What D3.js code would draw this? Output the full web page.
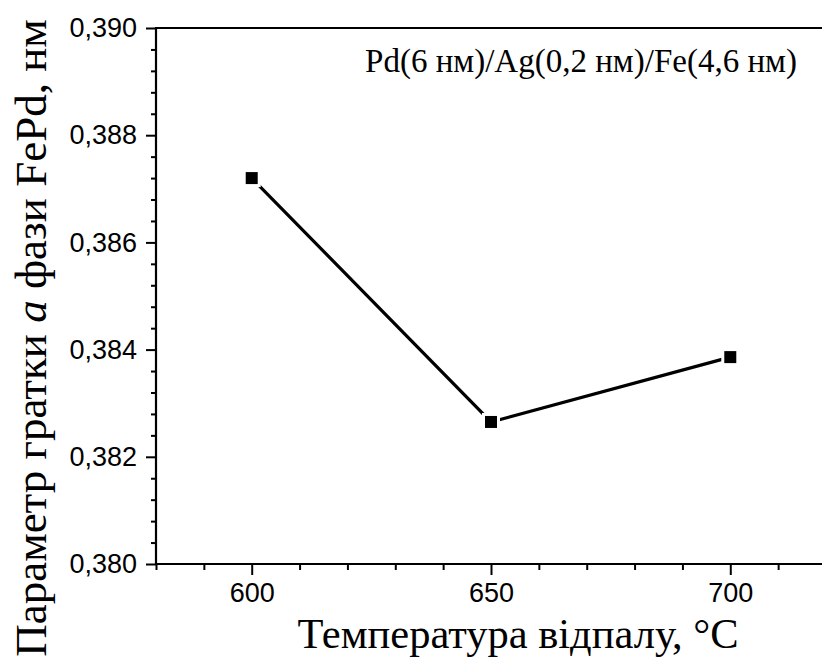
<!DOCTYPE html>
<html>
<head>
<meta charset="utf-8">
<script src="https://cdn.jsdelivr.net/npm/d3@7"></script>
<style>
  body { margin: 0; background: #fff; }
  svg { display: block; }
  .tick text { font-family: "Liberation Sans", Arial, sans-serif; }
  .serif { font-family: "Liberation Serif", "Times New Roman", serif; }
</style>
</head>
<body>
<div id="chart"></div>
<script>
// Data
var temps = [600, 650, 700];
var latticeParam = [0.38720, 0.38265, 0.38386];
var xTicks = [600, 650, 700];
var yTicks = [0.380, 0.382, 0.384, 0.386, 0.388, 0.390];
var legendLabel = "Pd(6 нм)/Ag(0,2 нм)/Fe(4,6 нм)";

function drawChart() {
  const W = 822, H = 670;
  const left = 156, top = 28, bottom = 564;
  const right = 826;

  const svg = d3.select("#chart").append("svg")
    .attr("width", W)
    .attr("height", H);

  const xScale = d3.scaleLinear().domain([580, 720]).range([left, right]);
  const yScale = d3.scaleLinear().domain([0.380, 0.390]).range([bottom, top]);

  // minor ticks
  const xMinor = d3.range(580, 721, 10).filter(v => xTicks.indexOf(v) < 0);
  const yMinor = d3.range(0, 26).map(i => 0.380 + i * 0.0004)
    .filter(v => yTicks.every(t => Math.abs(t - v) > 1e-7));

  svg.append("g")
    .attr("transform", "translate(0," + bottom + ")")
    .call(d3.axisBottom(xScale).tickValues(xMinor).tickSize(6).tickFormat(""))
    .call(g => g.select(".domain").remove())
    .selectAll("line").attr("stroke-width", 2);

  svg.append("g")
    .attr("transform", "translate(" + left + ",0)")
    .call(d3.axisLeft(yScale).tickValues(yMinor).tickSize(5).tickFormat(""))
    .call(g => g.select(".domain").remove())
    .selectAll("line").attr("stroke-width", 2);

  // major ticks
  const xAxis = svg.append("g")
    .attr("transform", "translate(0," + bottom + ")")
    .call(d3.axisBottom(xScale).tickValues(xTicks).tickSize(11).tickPadding(8)
      .tickFormat(d3.format("d")));
  xAxis.select(".domain").remove();
  xAxis.selectAll("line").attr("stroke-width", 2);
  xAxis.selectAll("text").style("font-size", "27px").attr("fill", "#000");

  const yAxis = svg.append("g")
    .attr("transform", "translate(" + left + ",0)")
    .call(d3.axisLeft(yScale).tickValues(yTicks).tickSize(10).tickPadding(9)
      .tickFormat(d => d3.format(".3f")(d).replace(".", ",")));
  yAxis.select(".domain").remove();
  yAxis.selectAll("line").attr("stroke-width", 2);
  yAxis.selectAll("text").style("font-size", "27px").attr("fill", "#000");

  // frame: left, bottom, top
  svg.append("path")
    .attr("d", "M" + right + "," + top + "H" + left + "V" + bottom + "H" + right)
    .attr("fill", "none")
    .attr("stroke", "#000")
    .attr("stroke-width", 2.2);

  const pts = temps.map((t, i) => [xScale(t), yScale(latticeParam[i])]);

  svg.append("path")
    .datum(pts)
    .attr("d", d3.line())
    .attr("fill", "none")
    .attr("stroke", "#000")
    .attr("stroke-width", 3.2);

  // white halo then square marker
  svg.selectAll("rect.halo")
    .data(pts).enter().append("rect")
    .attr("class", "halo")
    .attr("x", d => d[0] - 9).attr("y", d => d[1] - 9)
    .attr("width", 18).attr("height", 18)
    .attr("fill", "#fff");

  svg.selectAll("rect.mark")
    .data(pts).enter().append("rect")
    .attr("class", "mark")
    .attr("x", d => d[0] - 6).attr("y", d => d[1] - 6)
    .attr("width", 12).attr("height", 12)
    .attr("fill", "#000");

  // legend text
  svg.append("text")
    .attr("class", "serif")
    .attr("x", 581).attr("y", 72)
    .attr("text-anchor", "middle")
    .style("font-size", "33px")
    .text(legendLabel);

  // axis titles
  svg.append("text")
    .attr("class", "serif")
    .attr("x", 518).attr("y", 648)
    .attr("text-anchor", "middle")
    .style("font-size", "42.5px")
    .text("Температура відпалу, °C");

  const yt = svg.append("text")
    .attr("class", "serif")
    .attr("transform", "translate(46,338) rotate(-90)")
    .attr("text-anchor", "middle")
    .style("font-size", "45px");
  yt.append("tspan").text("Параметр гратки ");
  yt.append("tspan").attr("font-style", "italic").text("a");
  yt.append("tspan").text(" фази FePd, нм");
}

drawChart();
</script>
</body>
</html>
